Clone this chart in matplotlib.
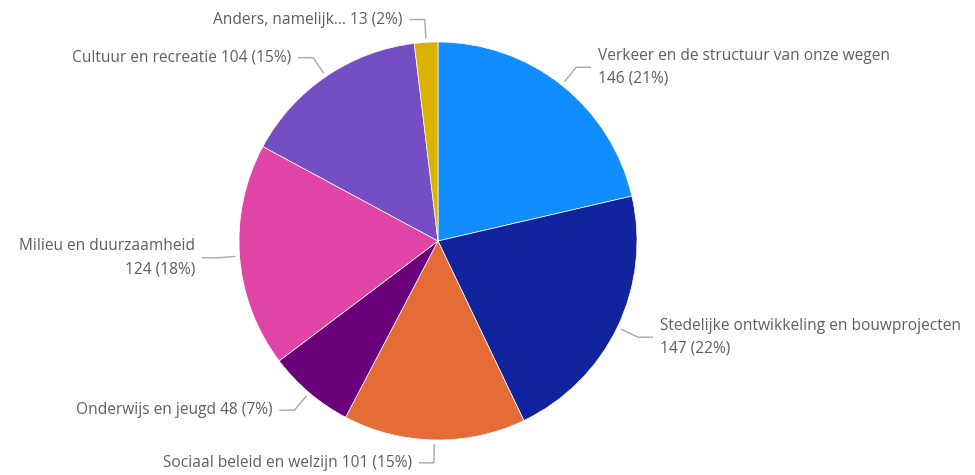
import numpy as np
import matplotlib
matplotlib.use("Agg")
import matplotlib.pyplot as plt

# survey themes, clockwise from 12 o'clock
CATEGORIES = [
    "Verkeer en de structuur van onze wegen",
    "Stedelijke ontwikkeling en bouwprojecten",
    "Sociaal beleid en welzijn",
    "Onderwijs en jeugd",
    "Milieu en duurzaamheid",
    "Cultuur en recreatie",
    "Anders, namelijk...",
]
COUNTS = [146, 147, 101, 48, 124, 104, 13]
PERCENTS = [21, 22, 15, 7, 18, 15, 2]
TWO_LINE = [True, True, False, False, True, False, False]
COLORS = ["#118DFF", "#12239E", "#E66C37", "#6B007B", "#E044A7", "#744EC2", "#D9B300"]

plt.rcParams["font.family"] = ["Open Sans", "DejaVu Sans"]
TEXT_COLOR = "#605E5C"
LINE_COLOR = "#A8A8A8"

W, H = 975, 475
fig = plt.figure(figsize=(W / 100, H / 100), dpi=100)
ax = fig.add_axes([0, 0, 1, 1])

cx, cy, R = 438, 234, 199
wedges, _ = ax.pie(COUNTS, colors=COLORS, startangle=90, counterclock=False,
                   center=(cx, cy), radius=R, frame=True,
                   wedgeprops=dict(edgecolor="white", linewidth=0.5))

ax.set_xlim(0, W)
ax.set_ylim(0, H)
ax.set_aspect("equal")
ax.axis("off")

for w, name, n, p, two in zip(wedges, CATEGORIES, COUNTS, PERCENTS, TWO_LINE):
    mid = np.deg2rad((w.theta1 + w.theta2) / 2)
    dx, dy = np.cos(mid), np.sin(mid)
    x0, y0 = cx + R * 1.02 * dx, cy + R * 1.02 * dy
    x1, y1 = cx + R * 1.115 * dx, cy + R * 1.115 * dy
    side = 1 if dx > 0.01 else -1
    x2 = x1 + side * 15
    ax.plot([x0, x1, x2], [y0, y1, y1], color=LINE_COLOR, lw=1, solid_capstyle="butt")
    if two:
        label = f"{name}\n{n} ({p}%)"
    else:
        label = f"{name} {n} ({p}%)"
    ax.text(x2 + side * 7, y1, label, ha="left" if side > 0 else "right",
            va="center", fontsize=11.2, color=TEXT_COLOR, linespacing=1.6,
            multialignment="left" if side > 0 else "right")

fig.savefig("out.png", dpi=100)
